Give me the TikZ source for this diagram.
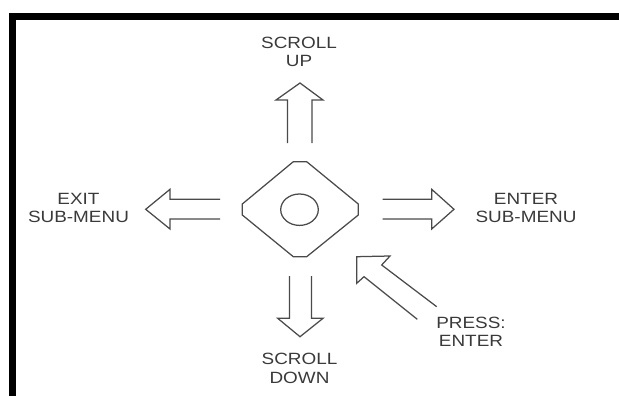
\documentclass[tikz,border=0pt]{standalone}
\usepackage{fontspec}
\newfontfamily\labfont{Liberation Sans}[FakeStretch=1.16]
\definecolor{inkline}{HTML}{4A4A4A}
\definecolor{inktext}{HTML}{3A3A3A}
\tikzset{
  frame/.style={line width=7pt, black, line join=miter},
  outline/.style={draw=inkline, line width=1.25pt, line join=miter},
  lab/.style={inner sep=0pt, align=center, text=inktext,
    font=\labfont\fontsize{16.3}{18.4}\selectfont, anchor=north},
}
\begin{document}
\begin{tikzpicture}[x=1pt, y=-1pt]
  \useasboundingbox (0,0) rectangle (619,396);

  % frame: left and top edges
  \draw[frame] (12.7,400) -- (12.7,17) -- (625,17);

  % joystick body and centre button
  \draw[outline] (293.3,161.7) -- (306.7,161.7) -- (358.3,204) -- (358.3,215)
    -- (306.7,256.7) -- (293.3,256.7) -- (242.3,215) -- (242.3,204) -- cycle;
  \draw[outline] (299.5,209.7) ellipse [x radius=18.8, y radius=15.7];

  % hollow direction arrows
  \draw[outline] (287.5,143) -- (287.5,100) -- (276,100) -- (300,83)
    -- (323,100) -- (312,100) -- (312,143);
  \draw[outline] (289.5,276) -- (289.5,318.3) -- (277.7,318.3) -- (300,336.7)
    -- (323,318.3) -- (311.5,318.3) -- (311.5,276);
  \draw[outline] (220,199.3) -- (170,199.3) -- (170,189.3) -- (145.7,209.3)
    -- (170,229) -- (170,219) -- (220,219);
  \draw[outline] (382.7,199.3) -- (431.7,199.3) -- (431.7,189.3) -- (454,209.3)
    -- (431.7,229) -- (431.7,219) -- (382.7,219);
  \draw[outline] (436.7,306.7) -- (381.7,265) -- (390,256) -- (356.7,256.7)
    -- (356.7,283.3) -- (364,276.7) -- (417.3,319.3);

  % labels
  \node[lab] (up) at (299,36.7) {SCROLL\\UP};
  \node[lab] (down) at (299.5,353.3) {SCROLL\\DOWN};
  \node[lab] (exit) at (78.5,192.7) {EXIT\\SUB-MENU};
  \node[lab] (enter) at (526,192.7) {ENTER\\SUB-MENU};
  \node[lab] (press) at (471,316.7) {PRESS:\\ENTER};
\end{tikzpicture}
\end{document}
